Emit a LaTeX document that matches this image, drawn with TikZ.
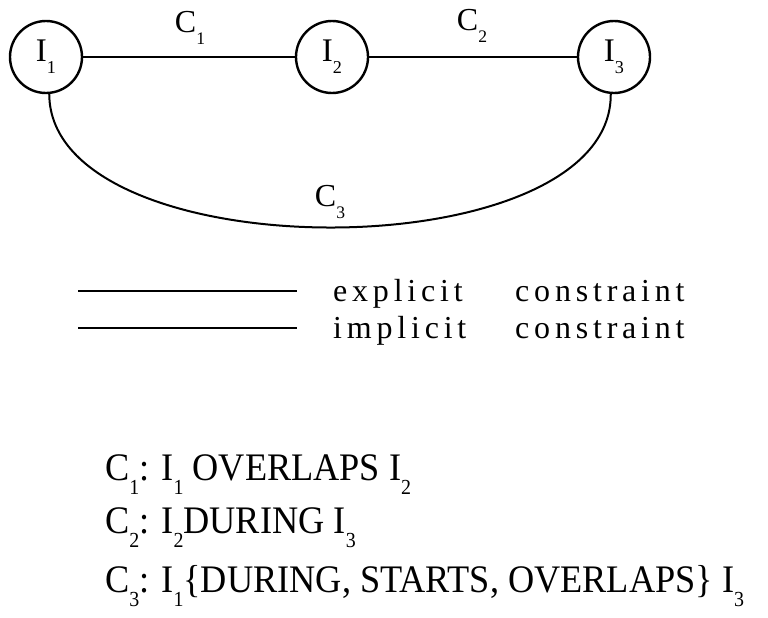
\documentclass[tikz,border=0pt]{standalone}
\usepackage{fontspec}
\setmainfont{Liberation Serif}
\newcommand{\sbs}[1]{\raisebox{-0.36em}{\scalebox{0.55}{#1}}}
\tikzset{
  ivl/.style={draw, circle, line width=2.4pt, minimum size=72pt, inner sep=0pt,
    font=\fontsize{33}{35}\selectfont},
  lbl/.style={font=\fontsize{32}{34}\selectfont, inner sep=0pt},
  edge/.style={line width=2.4pt},
  iedge/.style={line width=2pt},
  legtext/.style={font=\fontsize{32}{34}\selectfont\addfontfeature{LetterSpace=15}, anchor=base west, inner sep=0pt},
  deftext/.style={font=\fontsize{39}{41}\selectfont\addfontfeature{FakeStretch=0.93}, anchor=base west, inner sep=0pt}
}
\begin{document}
\begin{tikzpicture}[x=1pt,y=-1pt]
\useasboundingbox (0,0) rectangle (768,618);
\node[ivl] (i1) at (46,57) {I\sbs{1}};
\node[ivl] (i2) at (332,57) {I\sbs{2}};
\node[ivl] (i3) at (614,57) {I\sbs{3}};
\draw[edge] (i1) -- (i2);
\draw[edge] (i2) -- (i3);
\draw[iedge] (i1.-85) .. controls (50,272) and (612,272) .. (i3.-95);
\node[lbl] (c1) at (190,28) {C\sbs{1}};
\node[lbl] (c2) at (472,26) {C\sbs{2}};
\node[lbl] (c3) at (330,202) {C\sbs{3}};
\coordinate (e1) at (78,291);
\coordinate (e2) at (297,291);
\coordinate (m1) at (78,328);
\coordinate (m2) at (297,328);
\draw[edge] (e1) -- (e2);
\draw[iedge] (m1) -- (m2);
\node[legtext] (le) at (333,301) {\makebox[182pt][l]{explicit}constraint};
\node[legtext] (li) at (333,338) {\makebox[182pt][l]{implicit}constraint};
\node[deftext] (d1) at (105,480) {C\sbs{1}: I\sbs{1} OVERLAPS I\sbs{2}};
\node[deftext] (d2) at (105,533) {C\sbs{2}: I\sbs{2}DURING I\sbs{3}};
\node[deftext] (d3) at (105,592) {C\sbs{3}: I\sbs{1}\{DURING, STARTS, OVERLAPS\} I\sbs{3}};
\end{tikzpicture}
\end{document}
